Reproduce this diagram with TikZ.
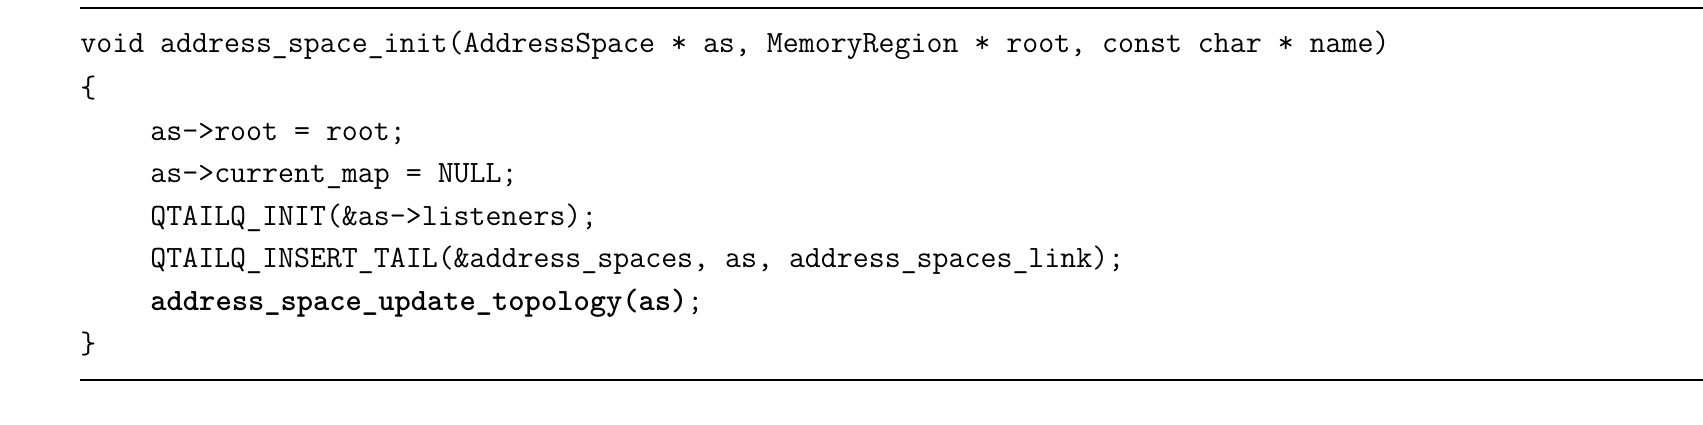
\documentclass[tikz,border=0pt]{standalone}
\begin{document}
\begin{tikzpicture}[x=0.5pt,y=-0.5pt,
  code/.style={anchor=base west,inner sep=0pt,font=\fontsize{15.5}{18}\selectfont\ttfamily}]
\useasboundingbox (0,0) rectangle (1703,424);
\draw[line width=0.7pt] (80,8) -- (1703,8);
\draw[line width=0.7pt] (80,380) -- (1703,380);
\node[code] (l1) at (80,52) {void address\_space\_init(AddressSpace * as, MemoryRegion * root, const char * name)};
\node[code] (l2) at (80,97) {\{};
\node[code] (l3) at (150,140) {as->root = root;};
\node[code] (l4) at (150,182) {as->current\_map = NULL;};
\node[code] (l5) at (150,225) {QTAILQ\_INIT(\&as->listeners);};
\node[code] (l6) at (150,267) {QTAILQ\_INSERT\_TAIL(\&address\_spaces, as, address\_spaces\_link);};
\node[code] (l7) at (150,310) {\textbf{address\_space\_update\_topology(as)};};
\node[code] (l8) at (80,353) {\}};
\end{tikzpicture}
\end{document}
